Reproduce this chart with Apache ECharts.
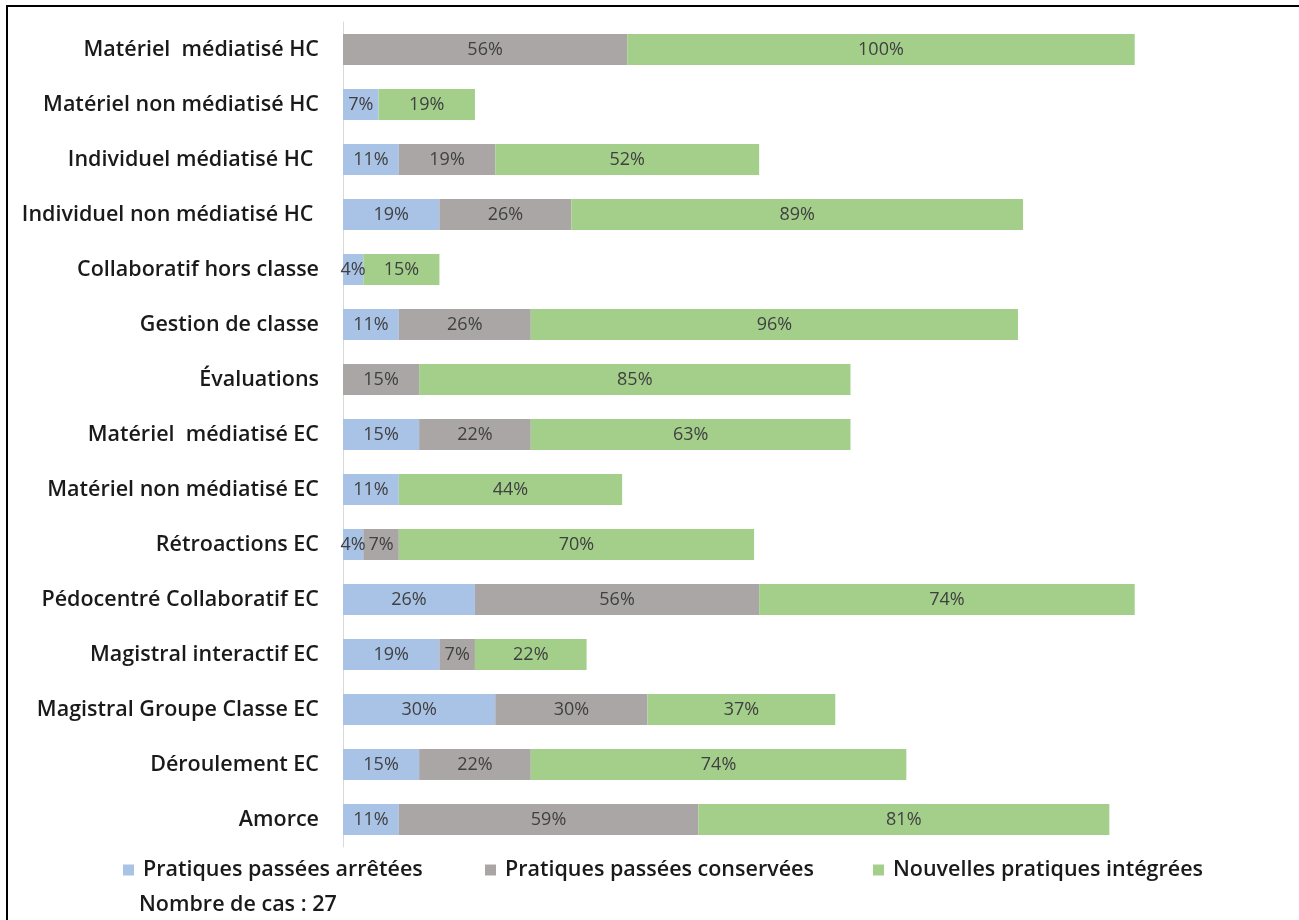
<!DOCTYPE html>
<html>
<head>
<meta charset="utf-8">
<script src="https://cdn.jsdelivr.net/npm/echarts@6/dist/echarts.min.js"></script>
<style>html,body{margin:0;padding:0;background:#fff;}#main{width:1299px;height:920px;}</style>
</head>
<body>
<div id="main"></div>
<script>
const categories = [
  'Matériel  médiatisé HC',
  'Matériel non médiatisé HC',
  'Individuel médiatisé HC ',
  'Individuel non médiatisé HC ',
  'Collaboratif hors classe',
  'Gestion de classe',
  'Évaluations',
  'Matériel  médiatisé EC',
  'Matériel non médiatisé EC',
  'Rétroactions EC',
  'Pédocentré Collaboratif EC',
  'Magistral interactif EC',
  'Magistral Groupe Classe EC',
  'Déroulement EC',
  'Amorce'
];
const seriesNames = ['Pratiques passées arrêtées', 'Pratiques passées conservées', 'Nouvelles pratiques intégrées'];
const arretees    = [0, 7, 11, 19, 4, 11, 0, 15, 11, 4, 26, 19, 30, 15, 11];
const conservees  = [56, 0, 19, 26, 0, 26, 15, 22, 0, 7, 56, 7, 30, 22, 59];
const nouvelles   = [100, 19, 52, 89, 15, 96, 85, 63, 44, 70, 74, 22, 37, 74, 81];
const footnote = 'Nombre de cas : 27';

const colors = ['#a9c3e6', '#aaa6a6', '#a3cf8b'];
const FONT = '"Open Sans", Lato, sans-serif';

const chart = echarts.init(document.getElementById('main'), null, {renderer: 'canvas'});
const mk = (name, data, i) => ({
  name: name,
  type: 'bar',
  stack: 'total',
  data: data,
  barWidth: 31,
  itemStyle: {color: colors[i]},
  label: {
    show: true,
    position: 'inside',
    color: '#404040',
    fontFamily: FONT,
    fontSize: 18,
    formatter: p => p.value ? p.value + '%' : ''
  },
  emphasis: {disabled: true}
});
const legendBase = (name, left) => ({
  data: [name],
  left: left,
  top: 854,
  icon: 'rect',
  itemWidth: 11,
  itemHeight: 11,
  textStyle: {fontFamily: FONT, fontSize: 21.5, fontWeight: 600, color: '#1a1a1a', padding: [0, 0, 0, 4]}
});
chart.setOption({
  animation: false,
  backgroundColor: '#fff',
  title: {
    text: footnote,
    left: 134,
    top: 889,
    textStyle: {fontFamily: FONT, fontSize: 21.5, fontWeight: 600, color: '#1a1a1a'}
  },
  legend: [
    legendBase(seriesNames[0], 118),
    legendBase(seriesNames[1], 480),
    legendBase(seriesNames[2], 868)
  ],
  grid: {left: 343, right: 144, top: 22, height: 825},
  xAxis: {type: 'value', min: 0, max: 160, show: false},
  yAxis: {
    type: 'category',
    data: categories,
    inverse: true,
    axisLine: {show: true, lineStyle: {color: '#d9d9d9', width: 1}},
    axisTick: {show: false},
    axisLabel: {
      margin: 24,
      fontFamily: FONT,
      fontSize: 21.5,
      fontWeight: 600,
      color: '#1a1a1a'
    }
  },
  series: [
    mk(seriesNames[0], arretees, 0),
    mk(seriesNames[1], conservees, 1),
    mk(seriesNames[2], nouvelles, 2)
  ],
  graphic: [{
    type: 'rect',
    shape: {x: 7, y: 6, width: 1400, height: 1000},
    style: {fill: 'none', stroke: '#000', lineWidth: 2},
    silent: true
  }]
});
</script>
</body>
</html>
